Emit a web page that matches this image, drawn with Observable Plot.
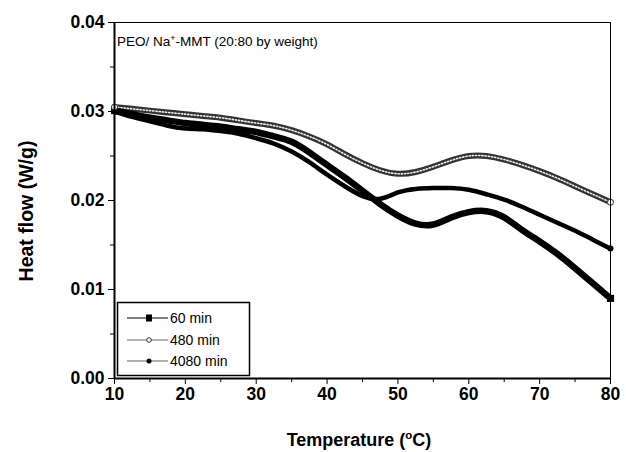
<!DOCTYPE html>
<html><head><meta charset="utf-8">
<script src="https://cdn.jsdelivr.net/npm/d3@7"></script>
<script src="https://cdn.jsdelivr.net/npm/@observablehq/plot@0.6"></script>
<style>
body{margin:0;background:#fff;}
#chart svg{font-family:"Liberation Sans",Arial,sans-serif;}
</style></head>
<body><div id="chart"></div>
<script>
const temps = [10,12.5,15,17.5,20,22.5,25,27.5,30,32.5,35,37.5,40,42.5,45,47.5,50,52.5,55,57.5,60,62.5,65,67.5,70,72.5,75,77.5,80];
const flow60 = [0.0301,0.0297,0.0293,0.0290,0.0287,0.0285,0.0283,0.0280,0.0277,0.0272,0.0266,0.0254,0.0240,0.0226,0.0211,0.0196,0.0183,0.0174,0.0173,0.0181,0.0187,0.0188,0.0181,0.0167,0.0154,0.0140,0.0124,0.0107,0.0090];
const flow480 = [0.0305,0.0303,0.0301,0.0299,0.0297,0.0295,0.0293,0.0290,0.0287,0.0284,0.0279,0.0272,0.0263,0.0252,0.0242,0.0234,0.0230,0.0232,0.0238,0.0245,0.0250,0.0250,0.0246,0.0240,0.0233,0.0225,0.0216,0.0207,0.0198];
const flow4080 = [0.0300,0.0294,0.0289,0.0284,0.0281,0.0280,0.0278,0.0275,0.0270,0.0264,0.0255,0.0243,0.0229,0.0216,0.0205,0.0202,0.0209,0.0213,0.0214,0.0214,0.0212,0.0207,0.0201,0.0193,0.0184,0.0175,0.0166,0.0156,0.0146];
const seriesNames = ["60 min","480 min","4080 min"];
const xTicks = [10,20,30,40,50,60,70,80];
const yTicks = [0,0.01,0.02,0.03,0.04];

const d60 = temps.map((t,i)=>({t, v:flow60[i]}));
const d480 = temps.map((t,i)=>({t, v:flow480[i]}));
const d4080 = temps.map((t,i)=>({t, v:flow4080[i]}));
const ends = a => [a[0], a[a.length-1]];

const plot = Plot.plot({
  width: 626, height: 452,
  marginLeft: 114, marginRight: 16, marginTop: 22, marginBottom: 74,
  x: {domain:[10,80]},
  y: {domain:[0,0.04]},
  style: {fontFamily:"Liberation Sans, Arial, sans-serif", background:"#fff"},
  marks: [
    Plot.line(d480, {x:"t", y:"v", curve:"natural", stroke:"#333", strokeWidth:6}),
    Plot.line(d480, {x:"t", y:"v", curve:"natural", stroke:"#eee", strokeWidth:1.6, strokeDasharray:"1.2,2"}),
    Plot.line(d4080, {x:"t", y:"v", curve:"natural", stroke:"#000", strokeWidth:4.5}),
    Plot.line(d60, {x:"t", y:"v", curve:"natural", stroke:"#000", strokeWidth:6.5}),
    Plot.dot(ends(d60), {x:"t", y:"v", symbol:"square", r:4, fill:"#000"}),
    Plot.dot(ends(d4080), {x:"t", y:"v", r:3, fill:"#000"}),
    Plot.dot(ends(d480), {x:"t", y:"v", r:3, fill:"#fff", stroke:"#333", strokeWidth:1}),
    Plot.frame({stroke:"#000", strokeWidth:1}),
    Plot.ruleY([0], {stroke:"#000", strokeWidth:2}),
    Plot.ruleX([10], {stroke:"#000", strokeWidth:2}),
    Plot.axisX({ticks:xTicks, tickSize:6, tickWidth:2, tickPadding:3, fontSize:17.5, fontWeight:"bold", label:null, tickFormat:d=>String(d)}),
    Plot.axisX({ticks:d3.range(15,80,10), tickSize:4, tickWidth:2, tickFormat:()=>"", label:null}),
    Plot.axisY({ticks:yTicks, tickSize:6, tickWidth:2, tickPadding:4, fontSize:17.5, fontWeight:"bold", label:null, tickFormat:d3.format(".2f")}),
    Plot.axisY({ticks:[0.005,0.015,0.025,0.035], tickSize:4, tickWidth:2, tickFormat:()=>"", label:null})
  ]
});
document.getElementById("chart").appendChild(plot);

const svg = d3.select(plot);
// annotation
const ann = svg.append("text").attr("x",117).attr("y",46).attr("text-anchor","start").attr("font-size",13.5).attr("fill","#000");
ann.append("tspan").text("PEO/ Na");
ann.append("tspan").attr("font-size",9).attr("dy",-5).text("+");
ann.append("tspan").attr("dy",5).text("-MMT (20:80 by weight)");

// axis titles
const xt = svg.append("text").attr("x",359).attr("y",446).attr("text-anchor","middle").attr("font-size",18).attr("font-weight","bold");
xt.append("tspan").text("Temperature (");
xt.append("tspan").attr("font-size",11.5).attr("dy",-7).text("o");
xt.append("tspan").attr("dy",7).text("C)");
svg.append("text").attr("transform","translate(33,211) rotate(-90)").attr("text-anchor","middle").attr("font-size",19.5).attr("font-weight","bold").text("Heat flow (W/g)");

// legend
const lg = svg.append("g");
lg.append("rect").attr("x",117.5).attr("y",302.5).attr("width",132).attr("height",73).attr("fill","#fff").attr("stroke","#000").attr("stroke-width",1.5);
const rows = [
  {name:seriesNames[0], y:318, col:"#000"},
  {name:seriesNames[1], y:340, col:"#666"},
  {name:seriesNames[2], y:361, col:"#666"}
];
rows.forEach((r,i)=>{
  lg.append("line").attr("x1",127).attr("x2",168).attr("y1",r.y).attr("y2",r.y).attr("stroke",r.col).attr("stroke-width",1);
  if(i===0) lg.append("rect").attr("x",146).attr("y",r.y-3.5).attr("width",6).attr("height",7).attr("fill","#000");
  if(i===1) lg.append("circle").attr("cx",149).attr("cy",r.y).attr("r",2.3).attr("fill","#fff").attr("stroke","#333");
  if(i===2) lg.append("circle").attr("cx",149).attr("cy",r.y).attr("r",2.5).attr("fill","#000");
  lg.append("text").attr("x",170).attr("y",r.y+5).attr("text-anchor","start").attr("font-size",14).text(r.name);
});
</script></body></html>
